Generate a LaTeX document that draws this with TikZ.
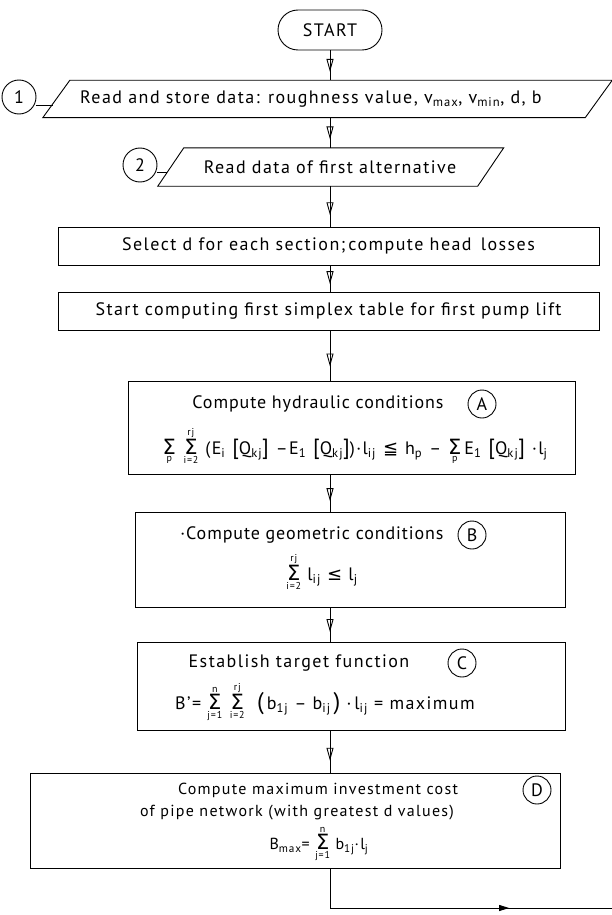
\documentclass[tikz,border=0pt]{standalone}
\usepackage{fontspec}
\setmainfont[LetterSpace=8]{PT Sans}
\newfontfamily\tfont[LetterSpace=5]{PT Sans}
\newfontfamily\symf{DejaVu Sans}
\usetikzlibrary{arrows.meta,decorations.markings,calc}
\newcommand{\smallf}{\fontsize{10}{10}\selectfont}
\newcommand{\Sm}[2]{\ensuremath{\mathop{\hbox{\symf\fontsize{21}{21}\selectfont Σ}}\limits_{\hbox{\smallf #1}}^{\hbox{\smallf #2}}}}
\newcommand{\sbs}[1]{\textsubscript{#1}}
\newcommand{\bigbr}[1]{{\fontsize{22}{22}\selectfont #1}}
\newcommand{\hs}{\hspace{7pt}}
\begin{document}
\begin{tikzpicture}[x=1pt,y=-1pt,font=\fontsize{18}{21}\selectfont,
 box/.style={draw,line width=0.9pt,inner sep=0pt},
 lbl/.style={inner sep=0pt},
 dtext/.style={inner sep=0pt,font=\fontsize{16}{19}\selectfont},
 circ/.style={draw,circle,line width=0.9pt,inner sep=0pt,minimum size=28pt},
 bigcirc/.style={draw,circle,line width=0.9pt,inner sep=0pt,minimum size=34pt},
 flow/.style={line width=0.9pt,postaction={decorate},decoration={markings,mark=at position 0.72 with {\arrow{Triangle[open,width=7pt,length=13pt,line width=0.9pt]}}}},
 flowR/.style={line width=0.9pt,postaction={decorate},decoration={markings,mark=at position 0.68 with {\arrow{Triangle[width=6pt,length=10pt]}}}},
 ]
\useasboundingbox (0,0) rectangle (612,915);
\coordinate (fx) at (330,0);
% START
\node[box,rounded corners=20pt,minimum width=104pt,minimum height=40pt] (start) at (330,30) {START};
% parallelogram 1
\node[lbl,minimum width=542pt,minimum height=37pt] (p1) at (327.5,99) {};
\draw[line width=0.9pt] ($(p1.north west)+(13.5,0)$) -- ($(p1.north east)+(13.5,0)$) -- ($(p1.south east)+(-13.5,0)$) -- ($(p1.south west)+(-13.5,0)$) -- cycle;
\node[lbl,anchor=west] (t1) at (80,99) {Read and store data: roughness value, v\sbs{max}, v\sbs{min}, d, b};
\node[bigcirc] (c1) at (19,97) {1};
\coordinate (e1) at (53,105);
\draw[line width=0.9pt] (c1.east |- e1) -- (e1);
% parallelogram 2
\node[lbl,minimum width=319.5pt,minimum height=38pt] (p2) at (330.75,167) {};
\draw[line width=0.9pt] ($(p2.north west)+(13,0)$) -- ($(p2.north east)+(13,0)$) -- ($(p2.south east)+(-13,0)$) -- ($(p2.south west)+(-13,0)$) -- cycle;
\node[lbl] (t2) at (330,167) {Read data of first alternative};
\node[bigcirc] (c2) at (140,165) {2};
\coordinate (e2) at (167,172);
\draw[line width=0.9pt] (c2.east |- e2) -- (e2);
% boxes 3, 4
\node[box,minimum width=541pt,minimum height=38pt] (b3) at (328.5,246) {Select d for each section;\,compute head\, losses};
\node[box,minimum width=541pt,minimum height=38pt] (b4) at (328.5,311) {Start computing first simplex table for first pump lift};
% box A
\node[box,minimum width=447pt,minimum height=93pt] (bA) at (351.5,427.5) {};
\node[lbl,font=\fontsize{18}{21}\tfont] (tA) at (318,404) {Compute hydraulic conditions};
\node[circ] (cA) at (482,404) {A};
\node[lbl] (fA) at (355,446) {$\Sm{p}{}\;\Sm{i=2}{rj}$\hs(E\sbs{i}\hs\bigbr{[}Q\sbs{kj}\bigbr{]}\hs–E\sbs{1}\hs\bigbr{[}Q\sbs{kj}\bigbr{]})·l\sbs{ij}\hs{\symf ≦}\hs h\sbs{p}\hs–\hs$\Sm{p}{}$\,E\sbs{1}\hs\bigbr{[}Q\sbs{kj}\bigbr{]}\hs·l\sbs{j}};
% box B
\node[box,minimum width=430pt,minimum height=95pt] (bB) at (350,559.5) {};
\node[lbl,font=\fontsize{18}{21}\tfont] (tB) at (312,535) {·Compute geometric conditions};
\node[circ] (cB) at (472,535) {B};
\node[lbl] (fB) at (322,572) {$\Sm{i=2}{rj}$ l\sbs{ij} {\symf ≤} l\sbs{j}};
% box C
\node[box,minimum width=428pt,minimum height=88pt] (bC) at (351,686) {};
\node[lbl] (tC) at (299,663) {Establish target function};
\node[circ] (cC) at (462,663) {C};
\node[lbl] (fC) at (325,702) {B'= $\Sm{j=1}{n}\;\Sm{i=2}{rj}$\ \ {\fontsize{24}{24}\selectfont(}\,b\sbs{1j} – b\sbs{ij}\,{\fontsize{24}{24}\selectfont)}\ ·\,l\sbs{ij} = maximum};
% box D
\node[box,minimum width=530pt,minimum height=95pt] (bD) at (295,820.5) {};
\node[dtext] (tD1) at (318,790) {Compute maximum investment cost};
\node[dtext] (tD2) at (297,813) {of pipe network (with greatest d values)};
\node[dtext] (fD) at (319,844) {B\sbs{max}= $\Sm{j=1}{n}$ b\sbs{1j}·l\sbs{j}};
\node[circ] (cD) at (537,790) {D};
% connectors
\draw[flow] (start.south) -- (start.south |- p1.north);
\draw[flow] (start.south |- p1.south) -- (start.south |- p2.north);
\draw[flow] (fx |- p2.south) -- (fx |- b3.north);
\draw[flow] (fx |- b3.south) -- (fx |- b4.north);
\draw[flow] (fx |- b4.south) -- (fx |- bA.north);
\draw[flow] (fx |- bA.south) -- (fx |- bB.north);
\draw[flow] (fx |- bB.south) -- (fx |- bC.north);
\draw[flow] (fx |- bC.south) -- (fx |- bD.north);
\coordinate (endpt) at (612,908);
\draw[flowR] (fx |- bD.south) |- (endpt);
\end{tikzpicture}
\end{document}
